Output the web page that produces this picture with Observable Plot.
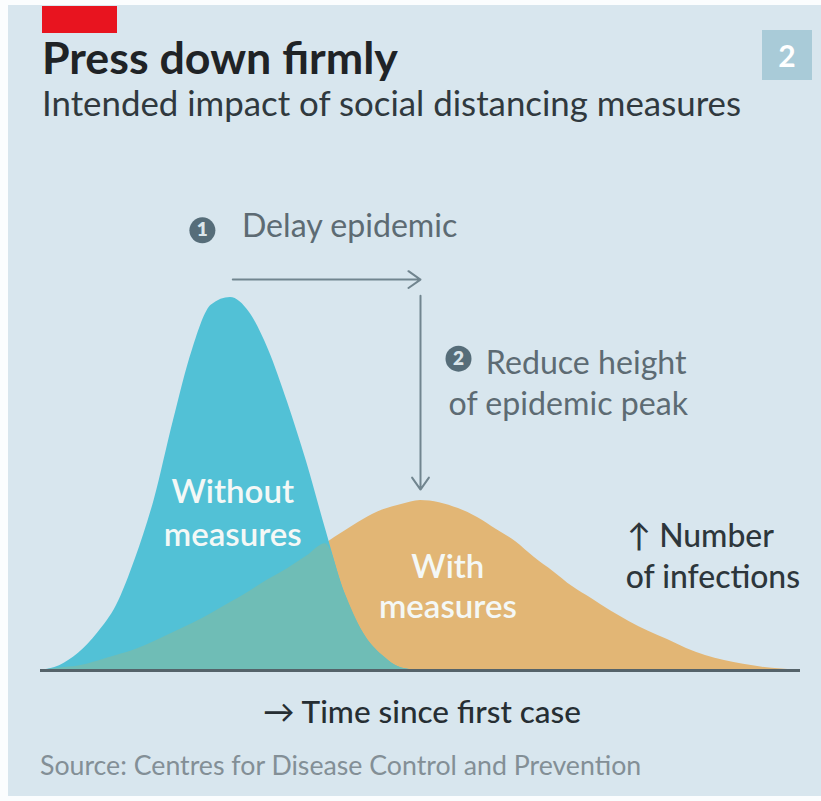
<!DOCTYPE html>
<html><head><meta charset="utf-8">
<script src="https://cdn.jsdelivr.net/npm/d3@7"></script>
<script src="https://cdn.jsdelivr.net/npm/@observablehq/plot@0.6"></script>
<style>
html,body{margin:0;padding:0;background:#fff;}
#wrap{position:relative;width:821px;height:801px;overflow:hidden;background:#fbfdfe;font-family:Lato,"Open Sans",sans-serif;}
#panel{position:absolute;left:8px;top:5px;width:813px;height:791px;background:#d8e6ee;}
#red{position:absolute;left:42px;top:6px;width:75px;height:27px;background:#e8141f;}
.t{position:absolute;white-space:nowrap;line-height:1;}
#title{left:42px;font-weight:700;color:#1f2326;}
#subtitle{left:42px;font-weight:400;color:#30393e;}
#badge{position:absolute;left:762px;top:30px;width:50px;height:50px;background:#a9cbd8;color:#fff;font-weight:700;font-size:30px;line-height:50px;text-align:center;}
#chart{position:absolute;left:0;top:150px;}
#source{left:40px;color:#838f96;}
</style></head><body>
<div id="wrap">
  <div id="panel"></div>
  <div id="red"></div>
  <div id="title" class="t">Press down firmly</div>
  <div id="subtitle" class="t">Intended impact of social distancing measures</div>
  <div id="badge">2</div>
  <div id="chart"></div>
  <div id="source" class="t">Source: Centres for Disease Control and Prevention</div>
</div>
<script>
// ---- data (time since first case, number of infections; arbitrary units) ----
const timeWithout = [0,2.5,5,7.5,10,12.5,15,17.5,20,22.5,25,27.5,30,32.5,35,37.5,40,42.5,45,47.5,50];
const infectionsWithout = [0,1.3,4.6,10,17.4,30,46,67,86,98,100,96,86,72,56,38,21,10,4,0.7,0];
const timeWith = [0,2.5,5,7.5,10,12.5,15,17.5,20,22.5,25,27.5,30,32.5,35,37.5,40,42.5,45,47.5,50,
  52.5,55,57.5,60,62.5,65,67.5,70,72.5,75,77.5,80,82.5,85,87.5,90,92.5,95,97.5,100];
const infectionsWith = [0,0.7,1.2,2.5,4,5.6,7.8,10.2,12.6,15.3,18.2,21.2,24.4,27.3,30.6,34,37.3,40.5,43,44.5,45.6,
  45,43.4,41,37.8,34.6,30.3,26.5,22.5,19.3,16,13.1,10.5,8.3,5.9,4,2.7,1.7,0.9,0.4,0];

// annotation texts
const seriesLabels = ["Without", "measures", "With", "measures"];
const stepLabels = ["Delay epidemic", "Reduce height", "of epidemic peak"];
const axisLabels = ["↑ Number", "of infections", "→ Time since first case"];

// ---- helpers ----
const ctx = document.createElement("canvas").getContext("2d");
function fit(text, weight, width, family = "Lato") {
  ctx.font = `${weight} 100px ${family}`;
  return 100 * width / ctx.measureText(text).width;
}
function place(el, width, weight, baseline) {
  const fs = fit(el.textContent, weight, width);
  el.style.fontSize = fs + "px";
  el.style.top = (baseline - 0.887 * fs) + "px";
}
place(document.getElementById("title"), 356, 700, 75);
place(document.getElementById("subtitle"), 700, 400, 117);
place(document.getElementById("source"), 602, 400, 776);

const withoutData = timeWithout.map((t, i) => ({t, v: infectionsWithout[i]}));
const withData = timeWith.map((t, i) => ({t, v: infectionsWith[i]}));
const overlapData = timeWithout.map((t, i) => ({t, v: Math.min(infectionsWithout[i], infectionsWith[timeWith.indexOf(t)])}));

const blue = "#52c1d6", orange = "#e2b675", teal = "#6fbdb6";
const grey = "#5d6b73", dark = "#2d363b";

const fsSeries = fit("measures", 600, 138);
const fsStep = fit("of epidemic peak", 400, 240);
const fsAxis = fit("of infections", 500, 175);
const fsTime = fit("→ Time since first case", 500, 319);

const chart = Plot.plot({
  width: 821, height: 590,
  marginLeft: 40, marginRight: 21, marginTop: 147, marginBottom: 70,
  x: {domain: [0, 100], axis: null},
  y: {domain: [0, 100], axis: null},
  style: {background: "transparent", overflow: "visible", fontFamily: "Lato, sans-serif"},
  marks: [
    Plot.areaY(withData, {x: "t", y: "v", fill: orange, curve: "monotone-x"}),
    Plot.areaY(withoutData, {x: "t", y: "v", fill: blue, curve: "monotone-x"}),
    Plot.areaY(overlapData, {x: "t", y: "v", fill: teal, curve: "monotone-x"}),
    Plot.ruleY([0], {stroke: "#55636a", strokeWidth: 3}),
    // step 1 arrow: delay
    Plot.arrow([{x1: 25.3, y1: 104.8, x2: 50, y2: 104.8}], {x1: "x1", y1: "y1", x2: "x2", y2: "y2", stroke: "#71858f", strokeWidth: 2, headLength: 11, headAngle: 70}),
    // step 2 arrow: reduce
    Plot.arrow([{x1: 50, y1: 100.5, x2: 50, y2: 48.5}], {x1: "x1", y1: "y1", x2: "x2", y2: "y2", stroke: "#71858f", strokeWidth: 2, headLength: 11, headAngle: 70}),
    // numbered circles
    Plot.dot([{x: 21.3, y: 118, n: "1"}, {x: 55, y: 83.6, n: "2"}], {x: "x", y: "y", r: 13, fill: "#566d79", stroke: null}),
    Plot.text([{x: 21.3, y: 118, n: "1"}, {x: 55, y: 83.6, n: "2"}], {x: "x", y: "y", text: "n", fill: "#dbe6eb", fontWeight: 800, fontSize: 19}),
    // step labels
    Plot.text([
      {x: 26.5, y: 116.1, s: stepLabels[0]},
      {x: 58.6, y: 79.6, s: stepLabels[1]},
      {x: 53.7, y: 68.4, s: stepLabels[2]}
    ], {x: "x", y: "y", text: "s", textAnchor: "start", lineAnchor: "bottom", fill: grey, fontSize: fsStep}),
    // series labels
    Plot.text([
      {x: 25.3, y: 44.8, s: seriesLabels[0]},
      {x: 25.3, y: 33.5, s: seriesLabels[1]},
      {x: 53.6, y: 24.9, s: seriesLabels[2]},
      {x: 53.6, y: 14.2, s: seriesLabels[3]}
    ], {x: "x", y: "y", text: "s", textAnchor: "middle", lineAnchor: "bottom", fill: "#f4f8f6", fontWeight: 600, fontSize: fsSeries}),
    // axis labels
    Plot.text([
      {x: 77.2, y: 33.0, s: axisLabels[0]},
      {x: 77.0, y: 22.0, s: axisLabels[1]}
    ], {x: "x", y: "y", text: "s", textAnchor: "start", lineAnchor: "bottom", fill: dark, fontWeight: 500, fontSize: fsAxis}),
    Plot.text([{x: 50.2, y: -14.2, s: axisLabels[2]}], {x: "x", y: "y", text: "s", textAnchor: "middle", lineAnchor: "bottom", fill: "#262e33", fontWeight: 500, fontSize: fsTime})
  ]
});
document.getElementById("chart").appendChild(chart);
</script>
</body></html>
